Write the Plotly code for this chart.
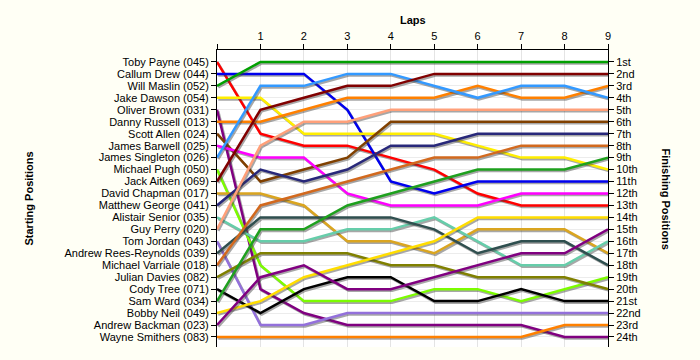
import plotly.graph_objects as go

laps = [0, 1, 2, 3, 4, 5, 6, 7, 8, 9]
lap_labels = ["", "1", "2", "3", "4", "5", "6", "7", "8", "9"]

drivers = [
    "Toby Payne (045)", "Callum Drew (044)", "Will Maslin (052)", "Jake Dawson (054)",
    "Oliver Brown (031)", "Danny Russell (013)", "Scott Allen (024)", "James Barwell (025)",
    "James Singleton (026)", "Michael Pugh (050)", "Jack Aitken (069)", "David Chapman (017)",
    "Matthew George (041)", "Alistair Senior (035)", "Guy Perry (020)", "Tom Jordan (043)",
    "Andrew Rees-Reynolds (039)", "Michael Varriale (018)", "Julian Davies (082)",
    "Cody Tree (071)", "Sam Ward (034)", "Bobby Neil (049)", "Andrew Backman (023)",
    "Wayne Smithers (083)",
]

# positions at laps 0..9 for each driver
positions = {
    "Toby Payne (045)":           [1, 7, 8, 8, 9, 10, 12, 13, 13, 13],
    "Callum Drew (044)":          [2, 2, 2, 5, 11, 12, 11, 11, 11, 11],
    "Will Maslin (052)":          [3, 1, 1, 1, 1, 1, 1, 1, 1, 1],
    "Jake Dawson (054)":          [4, 4, 7, 7, 7, 7, 8, 9, 9, 10],
    "Oliver Brown (031)":         [5, 20, 22, 23, 23, 23, 23, 23, 24, 24],
    "Danny Russell (013)":        [6, 6, 5, 4, 4, 4, 3, 4, 4, 3],
    "Scott Allen (024)":          [7, 11, 10, 9, 6, 6, 6, 6, 6, 6],
    "James Barwell (025)":        [8, 9, 9, 12, 13, 13, 13, 12, 12, 12],
    "James Singleton (026)":      [9, 3, 3, 2, 2, 3, 4, 3, 3, 4],
    "Michael Pugh (050)":         [10, 18, 21, 21, 21, 20, 20, 21, 20, 19],
    "Jack Aitken (069)":          [11, 5, 4, 3, 3, 2, 2, 2, 2, 2],
    "David Chapman (017)":        [12, 12, 13, 16, 16, 17, 15, 15, 15, 17],
    "Matthew George (041)":       [13, 10, 11, 10, 8, 8, 7, 7, 7, 7],
    "Alistair Senior (035)":      [14, 16, 16, 15, 15, 14, 16, 18, 18, 16],
    "Guy Perry (020)":            [15, 8, 6, 6, 5, 5, 5, 5, 5, 5],
    "Tom Jordan (043)":           [16, 23, 23, 22, 22, 22, 22, 22, 22, 22],
    "Andrew Rees-Reynolds (039)": [17, 14, 14, 14, 14, 15, 17, 16, 16, 18],
    "Michael Varriale (018)":     [18, 13, 12, 11, 10, 9, 9, 8, 8, 8],
    "Julian Davies (082)":        [19, 17, 17, 17, 18, 18, 19, 19, 19, 20],
    "Cody Tree (071)":            [20, 22, 20, 19, 19, 21, 21, 20, 21, 21],
    "Sam Ward (034)":             [21, 15, 15, 13, 12, 11, 10, 10, 10, 9],
    "Bobby Neil (049)":           [22, 21, 19, 18, 17, 16, 14, 14, 14, 14],
    "Andrew Backman (023)":       [23, 19, 18, 20, 20, 19, 18, 17, 17, 15],
    "Wayne Smithers (083)":       [24, 24, 24, 24, 24, 24, 24, 24, 23, 23],
}

colors = {
    "Toby Payne (045)": "#ff0000",
    "Callum Drew (044)": "#0000ee",
    "Will Maslin (052)": "#00a000",
    "Jake Dawson (054)": "#ffee00",
    "Oliver Brown (031)": "#800080",
    "Danny Russell (013)": "#ff8000",
    "Scott Allen (024)": "#804000",
    "James Barwell (025)": "#ff00ff",
    "James Singleton (026)": "#3399ff",
    "Michael Pugh (050)": "#7cfc00",
    "Jack Aitken (069)": "#800000",
    "David Chapman (017)": "#daa520",
    "Matthew George (041)": "#28287a",
    "Alistair Senior (035)": "#66cdaa",
    "Guy Perry (020)": "#ffa07a",
    "Tom Jordan (043)": "#9370db",
    "Andrew Rees-Reynolds (039)": "#2f4f4f",
    "Michael Varriale (018)": "#d2691e",
    "Julian Davies (082)": "#808000",
    "Cody Tree (071)": "#000000",
    "Sam Ward (034)": "#1ea01e",
    "Bobby Neil (049)": "#ffdd00",
    "Andrew Backman (023)": "#800080",
    "Wayne Smithers (083)": "#ff8000",
}

ordinals = ["1st", "2nd", "3rd", "4th", "5th", "6th", "7th", "8th", "9th", "10th",
            "11th", "12th", "13th", "14th", "15th", "16th", "17th", "18th", "19th",
            "20th", "21st", "22nd", "23rd", "24th"]

pos_ticks = list(range(1, len(drivers) + 1))
y_range = [24.84, 0]
font = "Liberation Sans, Arial, sans-serif"
paper = "#fffff5"

fig = go.Figure()
for name in drivers:
    ys = positions[name]
    fig.add_trace(go.Scatter(
        x=[v + 0.03 for v in laps], y=[v + 0.13 for v in ys], mode="lines",
        line=dict(color="rgba(60,60,60,0.45)", width=2.5),
        hoverinfo="skip", showlegend=False))
    fig.add_trace(go.Scatter(
        x=laps, y=ys, mode="lines", name=name,
        line=dict(color=colors[name], width=2.5),
        showlegend=False))

# invisible trace to anchor the right-hand axis
fig.add_trace(go.Scatter(x=[laps[-1]] * len(pos_ticks), y=pos_ticks, yaxis="y2",
                         mode="markers", marker=dict(opacity=0), hoverinfo="skip",
                         showlegend=False))

fig.update_layout(
    width=700, height=360,
    margin=dict(l=217, r=92, t=50, b=13, autoexpand=False),
    paper_bgcolor=paper,
    plot_bgcolor="#ffffff",
    font=dict(family=font, size=11, color="#000000"),
    xaxis=dict(
        side="top", range=[0, 9], tickvals=laps, ticktext=lap_labels,
        showline=True, linecolor="#000000", linewidth=1,
        ticks="outside", ticklen=5, tickcolor="#000000",
        showgrid=True, gridcolor="#e4e4e4", gridwidth=1, zeroline=False,
        tickfont=dict(size=11), automargin=False,
    ),
    yaxis=dict(
        range=y_range, tickvals=pos_ticks, ticktext=drivers,
        showline=True, linecolor="#000000", linewidth=1,
        ticks="outside", ticklen=5, tickcolor="#000000",
        showgrid=True, gridcolor="#ececec", gridwidth=1, zeroline=False,
        tickfont=dict(size=11), automargin=False,
    ),
    yaxis2=dict(
        overlaying="y", side="right", range=y_range, tickvals=pos_ticks,
        ticktext=ordinals, showline=True, linecolor="#000000", linewidth=1,
        ticks="outside", ticklen=5, tickcolor="#000000", showgrid=False,
        zeroline=False, tickfont=dict(size=11), automargin=False,
    ),
    annotations=[
        dict(text="<b>Laps</b>", xref="paper", yref="paper", x=0.5, y=1,
             yshift=38, showarrow=False, font=dict(size=11)),
        dict(text="<b>Starting Positions</b>", xref="paper", yref="paper",
             x=0, xshift=-197, y=0.5, textangle=-90, showarrow=False,
             font=dict(size=11)),
        dict(text="<b>Finishing Positions</b>", xref="paper", yref="paper",
             x=1, xshift=66, y=0.5, textangle=90, showarrow=False,
             font=dict(size=11)),
    ],
)

fig.write_html(
    "out.html",
    config={"displayModeBar": False},
    post_script="document.body.style.margin='0';document.body.style.background='"
                + paper + "';document.body.style.overflow='hidden';",
)
